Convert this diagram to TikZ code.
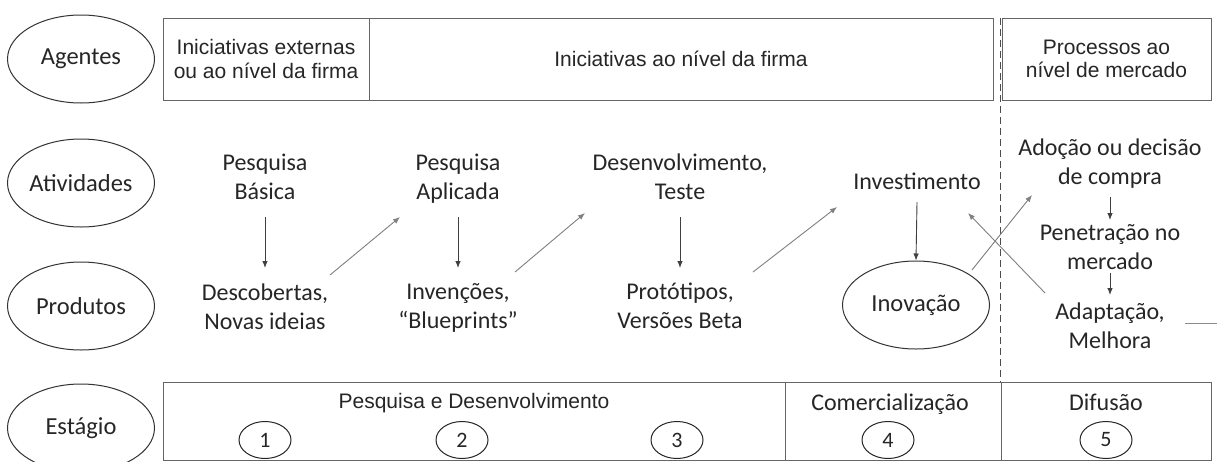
\documentclass[tikz,border=0pt]{standalone}
\usepackage{fontspec}
\setmainfont{Carlito}
\newfontfamily\arialf{Liberation Sans}
\usetikzlibrary{arrows.meta,shapes.geometric}
\begin{document}
\begin{tikzpicture}[x=1pt,y=-1pt,
  lbl/.style={ellipse, draw=black!80, line width=1pt, minimum width=147pt, minimum height=88pt, inner sep=0pt, font=\fontsize{24.5}{29}\selectfont, text=black!85},
  txt/.style={align=center, inner sep=0pt, font=\fontsize{24}{29}\selectfont, text=black!85, execute at begin node=\strut, execute at end node=\strut},
  atxt/.style={align=center, inner sep=0pt, font=\arialf\fontsize{21}{23.5}\selectfont, text=black!85},
  boxn/.style={draw=black!60, line width=1pt, inner sep=0pt, rectangle},
  num/.style={ellipse, draw=black!85, line width=1pt, minimum width=52pt, minimum height=37pt, inner sep=0pt, font=\fontsize{22}{26}\selectfont, text=black!85},
  arr/.style={-{Latex[length=7pt,width=5.5pt]}, line width=0.9pt, draw=black!50},
  varr/.style={arr, draw=black!75},
  divline/.style={draw=black!70, line width=1pt, dash pattern=on 7pt off 4pt}]
\useasboundingbox (0,0) rectangle (1217,461);
\clip (0,0) rectangle (1217,461);
\fill[white] (0,0) rectangle (1217,461);

% left column labels
\node[lbl] (agentes) at (81,59) {Agentes};
\node[lbl] (atividades) at (81,183) {Atividades};
\node[lbl] (produtos) at (81,306) {Produtos};
\node[lbl] (estagio) at (81,428) {Estágio};

% top row boxes
\node[boxn, atxt, minimum width=206pt, minimum height=82pt] (ag1) at (266,59) {Iniciativas externas\\ou ao nível da firma};
\node[boxn, atxt, minimum width=624pt, minimum height=82pt] (ag2) at (681,59) {Iniciativas ao nível da firma};
\node[boxn, atxt, minimum width=209pt, minimum height=82pt] (ag3) at (1106.5,59) {Processos ao\\nível de mercado};

% dashed divider
\coordinate (dtop) at (1000,18);
\coordinate (dbot) at (1000,382);
\draw[divline] (dtop) -- (dbot);

% bottom row boxes
\node[boxn, minimum width=622pt, minimum height=78pt] (st1) at (474,421) {};
\node[boxn, minimum width=216pt, minimum height=78pt] (st2) at (893,421) {};
\node[boxn, minimum width=210pt, minimum height=78pt] (st3) at (1106,421) {};
\node[atxt] (pdtxt) at (474,403) {Pesquisa e Desenvolvimento};
\node[txt] (comtxt) at (890,405) {Comercialização};
\node[txt] (diftxt) at (1106,405) {Difusão};
\node[num] (n1) at (265,440) {1};
\node[num] (n2) at (462,440) {2};
\node[num] (n3) at (677,440) {3};
\node[num] (n4) at (888,440) {4};
\node[num] (n5) at (1106,440) {5};

% activities
\node[txt] (pb) at (265,181) {Pesquisa\\Básica};
\node[txt] (pa) at (458,181) {Pesquisa\\Aplicada};
\node[txt] (dev) at (680,181) {Desenvolvimento,\\Teste};
\node[txt] (invest) at (917,184) {Investimento};
% products
\node[txt] (desc) at (265,311) {Descobertas,\\Novas ideias};
\node[txt] (inv) at (458,310) {Invenções,\\“Blueprints”};
\node[txt] (prot) at (680,310) {Protótipos,\\Versões Beta};
\node[lbl] (inov) at (916,305) {Inovação};
% market
\node[txt] (adoc) at (1110,166) {Adoção ou decisão\\de compra};
\node[txt] (pen) at (1110,251) {Penetração no\\mercado};
\node[txt] (adap) at (1110,330) {Adaptação,\\Melhora};

% connectors
\draw[varr] ([shift={(0,36)}]pb.center) -- ([shift={(0,-43)}]desc.center);
\draw[arr] ([shift={(65,-36)}]desc.center) -- ([shift={(-58,36)}]pa.center);
\draw[varr] ([shift={(0,36)}]pa.center) -- ([shift={(0,-42)}]inv.center);
\draw[arr] ([shift={(57,-38)}]inv.center) -- ([shift={(-95,32)}]dev.center);
\draw[varr] ([shift={(0,36)}]dev.center) -- ([shift={(0,-42)}]prot.center);
\draw[arr] ([shift={(73,-38)}]prot.center) -- ([shift={(-80,23)}]invest.center);
\draw[varr] ([shift={(0,18)}]invest.center) -- (inov.north);
\draw[arr] ([shift={(56,-35)}]inov.center) -- ([shift={(-78,29)}]adoc.center);
\draw[arr] ([shift={(-65,-37)}]adap.center) -- ([shift={(51,29)}]invest.center);
\draw[varr] ([shift={(0,31)}]adoc.center) -- ([shift={(0,-31)}]pen.center);
\draw[varr] ([shift={(0,22)}]pen.center) -- ([shift={(0,-35)}]adap.center);

% stub line at right edge
\coordinate (stubA) at (1185,323);
\coordinate (stubB) at (1217,323);
\draw[draw=black!45, line width=1pt] (stubA) -- (stubB);
\end{tikzpicture}
\end{document}
